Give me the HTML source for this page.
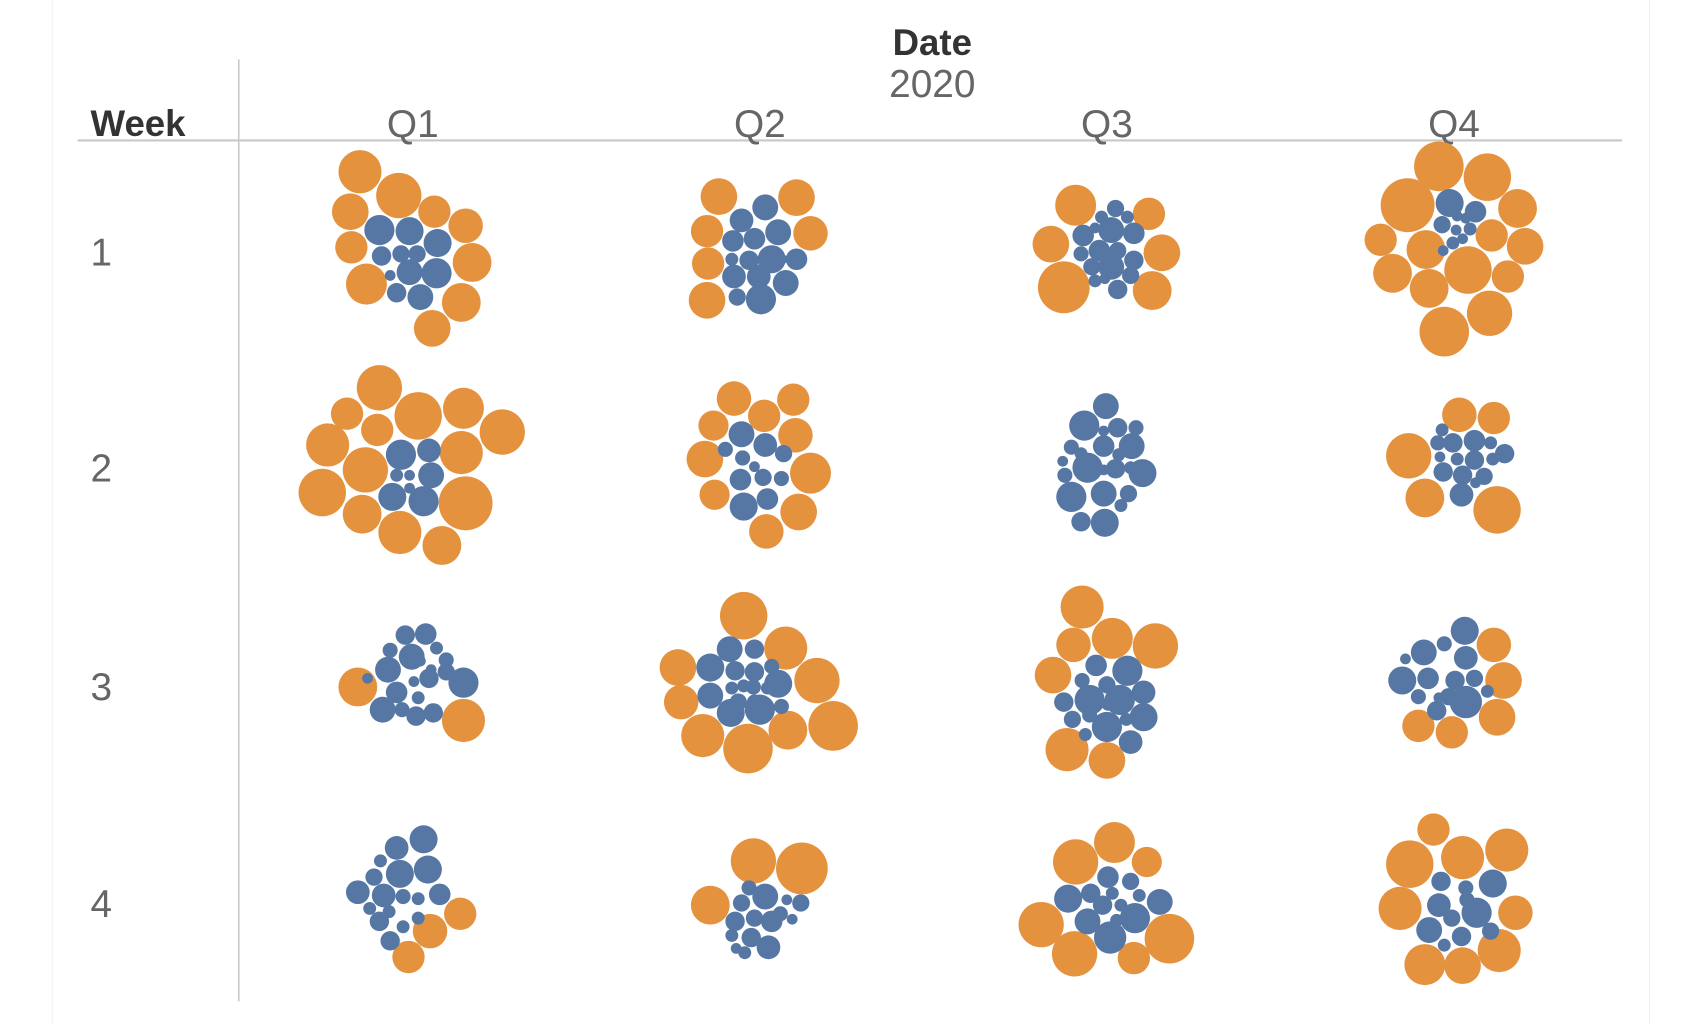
<!DOCTYPE html>
<html><head><meta charset="utf-8"><style>
html,body{margin:0;padding:0;background:#fff;}
svg{display:block;}
text{font-family:"Liberation Sans","DejaVu Sans",sans-serif;}
.o{fill:#E5923F}.b{fill:#5677A4}
</style></head><body>
<svg width="1690" height="1024" viewBox="0 0 1568 948" preserveAspectRatio="none" xmlns="http://www.w3.org/2000/svg">
<rect width="1568" height="948" fill="#fff"/>
<line x1="48.5" y1="0" x2="48.5" y2="948" stroke="#f2f2f2"/>
<line x1="1530.5" y1="0" x2="1530.5" y2="948" stroke="#f2f2f2"/>
<line x1="221.5" y1="55" x2="221.5" y2="927" stroke="#c8c8c8" stroke-width="1.5"/>
<line x1="72" y1="130" x2="1505" y2="130" stroke="#c8c8c8" stroke-width="2"/>
<text x="865" y="51" text-anchor="middle" font-size="34" font-weight="bold" fill="#333">Date</text>
<text x="865" y="90" text-anchor="middle" font-size="36" fill="#666">2020</text>
<text x="84" y="126" font-size="34" font-weight="bold" fill="#333">Week</text>
<g font-size="36" fill="#666" text-anchor="middle">
<text x="383" y="127">Q1</text><text x="705" y="127">Q2</text><text x="1027" y="127">Q3</text><text x="1349" y="127">Q4</text>
</g>
<g font-size="36" fill="#666">
<text x="84" y="246">1</text><text x="84" y="446">2</text><text x="84" y="648">3</text><text x="84" y="849">4</text>
</g>
<g class="o">
<circle cx="334" cy="159" r="20"/><circle cx="370" cy="181" r="21"/><circle cx="325" cy="196" r="17"/><circle cx="403" cy="196" r="15"/><circle cx="432" cy="209" r="16"/><circle cx="326" cy="229" r="15"/><circle cx="438" cy="243" r="18"/><circle cx="340" cy="263" r="19"/><circle cx="428" cy="280" r="18"/><circle cx="401" cy="304" r="17"/>
<circle cx="667" cy="182" r="17"/><circle cx="739" cy="183" r="17"/><circle cx="656" cy="214" r="15"/><circle cx="752" cy="216" r="16"/><circle cx="657" cy="244" r="15"/><circle cx="656" cy="278" r="17"/>
<circle cx="998" cy="190" r="19"/><circle cx="1066" cy="198" r="15"/><circle cx="975" cy="226" r="17"/><circle cx="1078" cy="234" r="17"/><circle cx="987" cy="266" r="24"/><circle cx="1069" cy="269" r="18"/>
<circle cx="1335" cy="154" r="23"/><circle cx="1380" cy="164" r="22"/><circle cx="1306" cy="190" r="25"/><circle cx="1408" cy="193" r="18"/><circle cx="1281" cy="222" r="15"/><circle cx="1323" cy="231" r="18"/><circle cx="1384" cy="218" r="15"/><circle cx="1415" cy="228" r="17"/><circle cx="1292" cy="253" r="18"/><circle cx="1362" cy="250" r="22"/><circle cx="1399" cy="256" r="15"/><circle cx="1326" cy="267" r="18"/><circle cx="1382" cy="290" r="21"/><circle cx="1340" cy="307" r="23"/>
<circle cx="352" cy="359" r="21"/><circle cx="322" cy="383" r="15"/><circle cx="388" cy="385" r="22"/><circle cx="430" cy="378" r="19"/><circle cx="466" cy="400" r="21"/><circle cx="304" cy="412" r="20"/><circle cx="350" cy="398" r="15"/><circle cx="428" cy="419" r="20"/><circle cx="339" cy="435" r="21"/><circle cx="299" cy="456" r="22"/><circle cx="336" cy="476" r="18"/><circle cx="432" cy="466" r="25"/><circle cx="371" cy="493" r="20"/><circle cx="410" cy="505" r="18"/>
<circle cx="681" cy="369" r="16"/><circle cx="736" cy="370" r="15"/><circle cx="662" cy="394" r="14"/><circle cx="709" cy="385" r="15"/><circle cx="738" cy="403" r="16"/><circle cx="654" cy="425" r="17"/><circle cx="752" cy="438" r="19"/><circle cx="663" cy="458" r="14"/><circle cx="741" cy="474" r="17"/><circle cx="711" cy="492" r="16"/>
<circle cx="1354" cy="384" r="16"/><circle cx="1386" cy="387" r="15"/><circle cx="1307" cy="422" r="21"/><circle cx="1322" cy="461" r="18"/><circle cx="1389" cy="472" r="22"/>
<circle cx="332" cy="636" r="18"/><circle cx="430" cy="667" r="20"/>
<circle cx="690" cy="570" r="22"/><circle cx="729" cy="600" r="20"/><circle cx="629" cy="618" r="17"/><circle cx="758" cy="630" r="21"/><circle cx="632" cy="650" r="16"/><circle cx="652" cy="681" r="20"/><circle cx="773" cy="672" r="23"/><circle cx="731" cy="676" r="18"/><circle cx="694" cy="693" r="23"/>
<circle cx="1004" cy="562" r="20"/><circle cx="1032" cy="591" r="19"/><circle cx="1072" cy="598" r="21"/><circle cx="996" cy="597" r="16"/><circle cx="977" cy="625" r="17"/><circle cx="990" cy="694" r="20"/><circle cx="1027" cy="704" r="17"/>
<circle cx="1386" cy="597" r="16"/><circle cx="1395" cy="630" r="17"/><circle cx="1316" cy="672" r="15"/><circle cx="1347" cy="678" r="15"/><circle cx="1389" cy="664" r="17"/>
<circle cx="399" cy="862" r="16"/><circle cx="427" cy="846" r="15"/><circle cx="379" cy="886" r="15"/>
<circle cx="699" cy="797" r="21"/><circle cx="744" cy="804" r="24"/><circle cx="659" cy="838" r="18"/>
<circle cx="1034" cy="780" r="19"/><circle cx="998" cy="798" r="21"/><circle cx="1064" cy="798" r="14"/><circle cx="966" cy="856" r="21"/><circle cx="997" cy="883" r="21"/><circle cx="1085" cy="869" r="23"/><circle cx="1052" cy="887" r="15"/>
<circle cx="1330" cy="768" r="15"/><circle cx="1398" cy="787" r="20"/><circle cx="1308" cy="800" r="22"/><circle cx="1357" cy="794" r="20"/><circle cx="1406" cy="845" r="16"/><circle cx="1299" cy="841" r="20"/><circle cx="1322" cy="893" r="19"/><circle cx="1357" cy="894" r="17"/><circle cx="1391" cy="880" r="20"/>
</g>
<g class="b">
<circle cx="352" cy="213" r="14"/><circle cx="380" cy="214" r="13"/><circle cx="406" cy="225" r="13"/><circle cx="354" cy="237" r="9"/><circle cx="372" cy="235" r="8"/><circle cx="387" cy="235" r="8"/><circle cx="380" cy="252" r="12"/><circle cx="405" cy="253" r="14"/><circle cx="362" cy="255" r="5"/><circle cx="368" cy="271" r="9"/><circle cx="390" cy="275" r="12"/>
<circle cx="710" cy="192" r="12"/><circle cx="688" cy="204" r="11"/><circle cx="722" cy="215" r="12"/><circle cx="680" cy="223" r="10"/><circle cx="700" cy="221" r="10"/><circle cx="679" cy="240" r="6"/><circle cx="695" cy="241" r="9"/><circle cx="716" cy="240" r="13"/><circle cx="739" cy="240" r="10"/><circle cx="727" cy="240" r="4"/><circle cx="681" cy="256" r="11"/><circle cx="704" cy="256" r="11"/><circle cx="729" cy="262" r="12"/><circle cx="684" cy="275" r="8"/><circle cx="706" cy="277" r="14"/>
<circle cx="1035" cy="193" r="8"/><circle cx="1022" cy="201" r="6"/><circle cx="1046" cy="201" r="6"/><circle cx="1005" cy="218" r="10"/><circle cx="1031" cy="213" r="12"/><circle cx="1016" cy="211" r="5"/><circle cx="1052" cy="216" r="10"/><circle cx="1020" cy="232" r="10"/><circle cx="1037" cy="232" r="8"/><circle cx="1052" cy="241" r="9"/><circle cx="1013" cy="247" r="8"/><circle cx="1031" cy="247" r="12"/><circle cx="1003" cy="235" r="7"/><circle cx="1049" cy="255" r="8"/><circle cx="1016" cy="260" r="6"/><circle cx="1037" cy="268" r="9"/><circle cx="1025" cy="258" r="5"/>
<circle cx="1345" cy="188" r="13"/><circle cx="1369" cy="196" r="10"/><circle cx="1338" cy="208" r="8"/><circle cx="1364" cy="212" r="6"/><circle cx="1351" cy="213" r="5"/><circle cx="1357" cy="221" r="5"/><circle cx="1348" cy="225" r="6"/><circle cx="1360" cy="202" r="5"/><circle cx="1352" cy="200" r="5"/><circle cx="1339" cy="232" r="5"/>
<circle cx="372" cy="421" r="14"/><circle cx="398" cy="417" r="11"/><circle cx="400" cy="440" r="12"/><circle cx="368" cy="440" r="6"/><circle cx="380" cy="440" r="5"/><circle cx="364" cy="460" r="13"/><circle cx="393" cy="464" r="14"/><circle cx="380" cy="452" r="5"/>
<circle cx="688" cy="402" r="12"/><circle cx="710" cy="412" r="11"/><circle cx="673" cy="416" r="7"/><circle cx="727" cy="420" r="8"/><circle cx="689" cy="424" r="7"/><circle cx="687" cy="444" r="10"/><circle cx="708" cy="442" r="8"/><circle cx="725" cy="443" r="7"/><circle cx="700" cy="432" r="5"/><circle cx="712" cy="462" r="10"/><circle cx="690" cy="469" r="13"/>
<circle cx="1026" cy="376" r="12"/><circle cx="1006" cy="394" r="14"/><circle cx="1037" cy="396" r="9"/><circle cx="1054" cy="396" r="7"/><circle cx="1024" cy="399" r="5"/><circle cx="994" cy="414" r="7"/><circle cx="1024" cy="413" r="10"/><circle cx="1050" cy="413" r="12"/><circle cx="1003" cy="420" r="6"/><circle cx="1038" cy="421" r="6"/><circle cx="988" cy="440" r="7"/><circle cx="1009" cy="433" r="14"/><circle cx="1035" cy="434" r="9"/><circle cx="1060" cy="438" r="13"/><circle cx="1049" cy="433" r="6"/><circle cx="1024" cy="435" r="5"/><circle cx="994" cy="460" r="14"/><circle cx="1024" cy="457" r="12"/><circle cx="1047" cy="457" r="8"/><circle cx="1040" cy="468" r="6"/><circle cx="1003" cy="483" r="9"/><circle cx="1025" cy="484" r="13"/><circle cx="986" cy="427" r="5"/>
<circle cx="1338" cy="398" r="6"/><circle cx="1334" cy="410" r="7"/><circle cx="1348" cy="410" r="9"/><circle cx="1368" cy="408" r="10"/><circle cx="1383" cy="410" r="6"/><circle cx="1396" cy="420" r="9"/><circle cx="1336" cy="423" r="5"/><circle cx="1352" cy="425" r="6"/><circle cx="1368" cy="426" r="9"/><circle cx="1385" cy="425" r="6"/><circle cx="1339" cy="437" r="9"/><circle cx="1357" cy="440" r="9"/><circle cx="1377" cy="441" r="8"/><circle cx="1369" cy="447" r="5"/><circle cx="1356" cy="458" r="11"/>
<circle cx="376" cy="588" r="9"/><circle cx="395" cy="587" r="10"/><circle cx="362" cy="602" r="7"/><circle cx="382" cy="608" r="12"/><circle cx="405" cy="600" r="6"/><circle cx="414" cy="611" r="7"/><circle cx="360" cy="620" r="12"/><circle cx="390" cy="612" r="5"/><circle cx="400" cy="620" r="5"/><circle cx="414" cy="622" r="8"/><circle cx="341" cy="628" r="5"/><circle cx="368" cy="641" r="10"/><circle cx="398" cy="628" r="9"/><circle cx="430" cy="632" r="14"/><circle cx="384" cy="631" r="5"/><circle cx="355" cy="657" r="12"/><circle cx="373" cy="657" r="7"/><circle cx="386" cy="663" r="9"/><circle cx="402" cy="660" r="9"/><circle cx="388" cy="646" r="6"/>
<circle cx="677" cy="601" r="12"/><circle cx="700" cy="601" r="9"/><circle cx="659" cy="618" r="13"/><circle cx="682" cy="621" r="9"/><circle cx="700" cy="622" r="9"/><circle cx="716" cy="617" r="7"/><circle cx="722" cy="633" r="13"/><circle cx="679" cy="637" r="6"/><circle cx="690" cy="635" r="6"/><circle cx="699" cy="636" r="7"/><circle cx="712" cy="637" r="6"/><circle cx="659" cy="644" r="12"/><circle cx="685" cy="650" r="8"/><circle cx="700" cy="650" r="7"/><circle cx="678" cy="660" r="13"/><circle cx="705" cy="657" r="14"/><circle cx="725" cy="654" r="7"/>
<circle cx="1017" cy="616" r="10"/><circle cx="1046" cy="621" r="14"/><circle cx="1004" cy="630" r="7"/><circle cx="1027" cy="634" r="8"/><circle cx="1061" cy="641" r="11"/><circle cx="987" cy="650" r="9"/><circle cx="1011" cy="648" r="14"/><circle cx="1039" cy="648" r="14"/><circle cx="1028" cy="652" r="6"/><circle cx="995" cy="666" r="8"/><circle cx="1061" cy="664" r="13"/><circle cx="1011" cy="662" r="7"/><circle cx="1027" cy="673" r="14"/><circle cx="1049" cy="687" r="11"/><circle cx="1007" cy="680" r="6"/><circle cx="1045" cy="666" r="6"/>
<circle cx="1359" cy="584" r="13"/><circle cx="1321" cy="604" r="12"/><circle cx="1340" cy="596" r="7"/><circle cx="1304" cy="610" r="5"/><circle cx="1360" cy="609" r="11"/><circle cx="1301" cy="630" r="13"/><circle cx="1325" cy="628" r="10"/><circle cx="1350" cy="630" r="9"/><circle cx="1368" cy="628" r="8"/><circle cx="1344" cy="645" r="8"/><circle cx="1316" cy="645" r="7"/><circle cx="1335" cy="646" r="5"/><circle cx="1360" cy="650" r="15"/><circle cx="1333" cy="658" r="9"/><circle cx="1380" cy="640" r="6"/>
<circle cx="393" cy="777" r="13"/><circle cx="368" cy="785" r="11"/><circle cx="353" cy="797" r="6"/><circle cx="371" cy="809" r="13"/><circle cx="397" cy="805" r="13"/><circle cx="347" cy="812" r="8"/><circle cx="332" cy="826" r="11"/><circle cx="356" cy="829" r="11"/><circle cx="374" cy="830" r="7"/><circle cx="388" cy="832" r="6"/><circle cx="408" cy="828" r="10"/><circle cx="343" cy="841" r="6"/><circle cx="361" cy="844" r="6"/><circle cx="388" cy="850" r="6"/><circle cx="352" cy="853" r="9"/><circle cx="374" cy="858" r="6"/><circle cx="362" cy="871" r="9"/>
<circle cx="695" cy="822" r="7"/><circle cx="710" cy="830" r="12"/><circle cx="730" cy="833" r="5"/><circle cx="743" cy="836" r="8"/><circle cx="688" cy="836" r="8"/><circle cx="724" cy="846" r="7"/><circle cx="682" cy="853" r="9"/><circle cx="700" cy="850" r="8"/><circle cx="716" cy="853" r="10"/><circle cx="679" cy="866" r="6"/><circle cx="697" cy="868" r="9"/><circle cx="713" cy="877" r="11"/><circle cx="691" cy="882" r="6"/><circle cx="683" cy="878" r="5"/><circle cx="735" cy="851" r="5"/>
<circle cx="1028" cy="812" r="10"/><circle cx="1012" cy="827" r="9"/><circle cx="1032" cy="827" r="6"/><circle cx="1049" cy="816" r="8"/><circle cx="1057" cy="829" r="6"/><circle cx="991" cy="832" r="13"/><circle cx="1023" cy="838" r="9"/><circle cx="1040" cy="838" r="6"/><circle cx="1076" cy="835" r="12"/><circle cx="1009" cy="853" r="12"/><circle cx="1053" cy="850" r="14"/><circle cx="1036" cy="852" r="6"/><circle cx="1030" cy="868" r="15"/>
<circle cx="1337" cy="816" r="9"/><circle cx="1385" cy="818" r="13"/><circle cx="1360" cy="822" r="7"/><circle cx="1335" cy="838" r="11"/><circle cx="1361" cy="833" r="7"/><circle cx="1370" cy="845" r="14"/><circle cx="1347" cy="850" r="8"/><circle cx="1326" cy="861" r="12"/><circle cx="1356" cy="867" r="9"/><circle cx="1383" cy="862" r="8"/><circle cx="1340" cy="875" r="6"/>
</g>
</svg>
</body></html>
